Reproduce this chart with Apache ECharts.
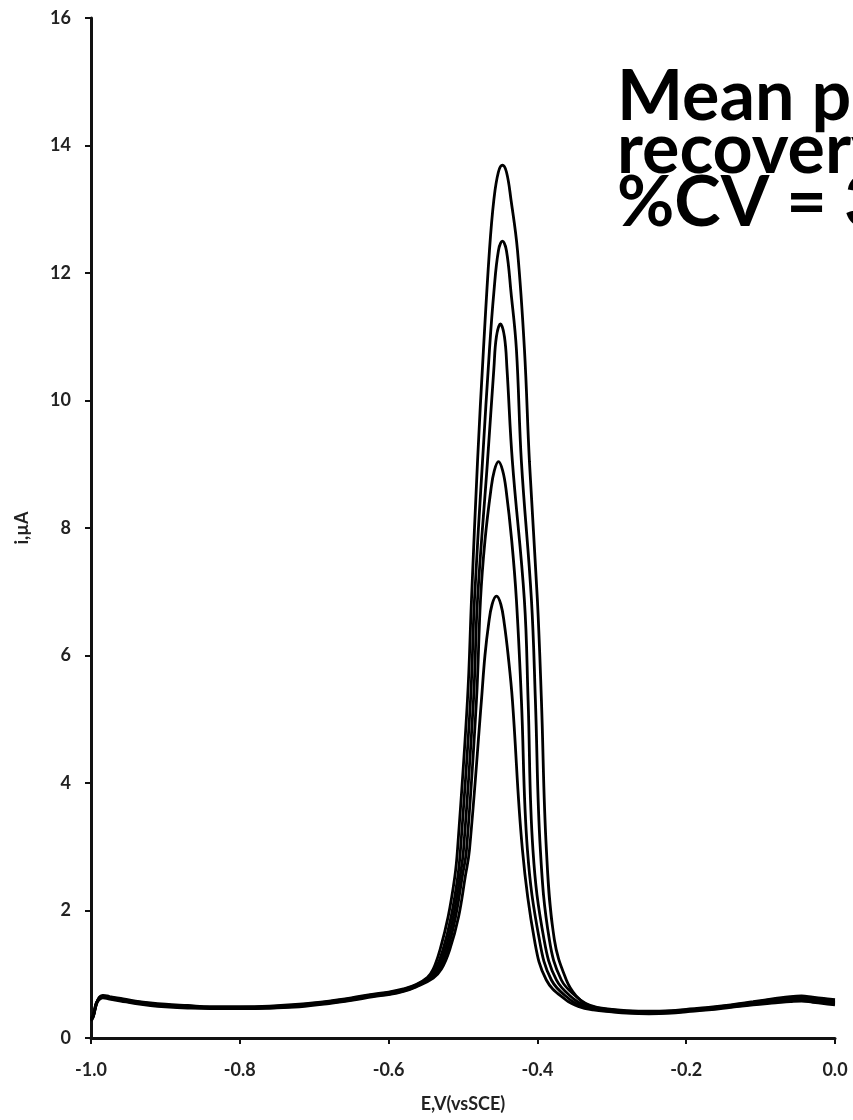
<!DOCTYPE html>
<html>
<head>
<meta charset="utf-8">
<script src="https://cdn.jsdelivr.net/npm/echarts@6/dist/echarts.min.js"></script>
<style>
html,body{margin:0;padding:0;background:#fff;}
#chart{width:853px;height:1120px;}
</style>
</head>
<body>
<div id="chart"></div>
<script>
// ---- data (E in V vs SCE, i in µA) ----
const xTicks = [-1.0, -0.8, -0.6, -0.4, -0.2, 0.0];
const yTicks = [0, 2, 4, 6, 8, 10, 12, 14, 16];
const xAxisTitle = 'E,V(vsSCE)';
const yAxisTitle = 'i,µA';
const noteLines = ['Mean p', 'recovery', '%CV = 3'];

const curveA = [
  [-1.0,0.27],[-0.997,0.33],[-0.993,0.52],[-0.989,0.64],[-0.984,0.67],[-0.975,0.65],[-0.96,0.62],[-0.94,0.58],
  [-0.92,0.55],[-0.9,0.53],[-0.87,0.51],[-0.84,0.49],[-0.8,0.49],[-0.76,0.5],[-0.72,0.53],[-0.68,0.58],
  [-0.65,0.63],[-0.62,0.69],[-0.6,0.72],[-0.58,0.77],[-0.563,0.84],[-0.548,0.95],[-0.54,1.08],[-0.531,1.38],
  [-0.52,1.9],[-0.511,2.53],[-0.5074,2.95],[-0.494,5.3],[-0.4886,6.87],[-0.4805,9.04],[-0.4725,10.8],
  [-0.4644,12.36],[-0.4585,13.15],[-0.4525,13.58],[-0.447,13.69],[-0.4415,13.58],[-0.4355,13.15],[-0.4268,12.36],
  [-0.4174,10.8],[-0.4107,9.04],[-0.4,6.87],[-0.3946,5.3],[-0.3879,2.95],[-0.3772,1.54],[-0.3611,0.91],
  [-0.348,0.66],[-0.335,0.54],[-0.32,0.48],[-0.3,0.45],[-0.28,0.43],[-0.25,0.42],[-0.22,0.43],[-0.2,0.45],
  [-0.17,0.48],[-0.14,0.52],[-0.11,0.57],[-0.08,0.62],[-0.06,0.65],[-0.045,0.66],[-0.03,0.64],[-0.015,0.62],[0.0,0.6]
];
const curveB = [
  [-1.0,0.28],[-0.997,0.34],[-0.993,0.53],[-0.989,0.63],[-0.984,0.66],[-0.975,0.64],[-0.96,0.61],[-0.94,0.57],
  [-0.92,0.54],[-0.9,0.52],[-0.87,0.5],[-0.84,0.48],[-0.8,0.48],[-0.76,0.49],[-0.72,0.52],[-0.68,0.57],
  [-0.65,0.62],[-0.62,0.68],[-0.6,0.71],[-0.58,0.76],[-0.563,0.83],[-0.546,0.95],[-0.537,1.08],[-0.527,1.38],
  [-0.516,1.9],[-0.507,2.53],[-0.5034,2.95],[-0.4899,5.3],[-0.4846,6.87],[-0.4738,9.04],[-0.4644,10.8],
  [-0.4585,11.7],[-0.4524,12.35],[-0.447,12.5],[-0.4416,12.35],[-0.4355,11.7],
  [-0.4282,10.8],[-0.4215,9.04],[-0.408,6.87],[-0.4027,5.3],[-0.396,2.95],[-0.3839,1.54],[-0.3678,0.91],
  [-0.346,0.63],[-0.333,0.52],[-0.318,0.47],[-0.3,0.44],[-0.28,0.42],[-0.25,0.41],[-0.22,0.42],[-0.2,0.44],
  [-0.17,0.47],[-0.14,0.51],[-0.11,0.56],[-0.08,0.61],[-0.06,0.63],[-0.045,0.64],[-0.03,0.62],[-0.015,0.6],[0.0,0.58]
];
const curveC = [
  [-1.0,0.3],[-0.997,0.35],[-0.993,0.54],[-0.989,0.62],[-0.984,0.65],[-0.975,0.63],[-0.96,0.6],[-0.94,0.56],
  [-0.92,0.53],[-0.9,0.51],[-0.87,0.49],[-0.84,0.48],[-0.8,0.47],[-0.76,0.48],[-0.72,0.51],[-0.68,0.56],
  [-0.65,0.61],[-0.62,0.67],[-0.6,0.7],[-0.58,0.75],[-0.563,0.82],[-0.544,0.95],[-0.535,1.08],[-0.524,1.38],
  [-0.513,1.9],[-0.504,2.53],[-0.4993,2.95],[-0.4859,5.3],[-0.4805,6.87],[-0.4671,9.04],[-0.4585,10.5],
  [-0.4551,11.0],[-0.4497,11.2],[-0.4443,11.0],[-0.4409,10.5],[-0.4336,9.04],[-0.4175,6.87],[-0.4125,5.3],
  [-0.406,2.95],[-0.391,1.54],[-0.3745,0.91],[-0.351,0.61],[-0.336,0.51],[-0.32,0.46],[-0.3,0.43],[-0.28,0.41],
  [-0.25,0.4],[-0.22,0.41],[-0.2,0.43],[-0.17,0.46],[-0.14,0.5],[-0.11,0.54],[-0.08,0.59],[-0.06,0.61],
  [-0.045,0.62],[-0.03,0.6],[-0.015,0.58],[0.0,0.56]
];
const curveD = [
  [-1.0,0.29],[-0.997,0.34],[-0.993,0.52],[-0.989,0.61],[-0.984,0.64],[-0.975,0.62],[-0.96,0.59],[-0.94,0.55],
  [-0.92,0.52],[-0.9,0.5],[-0.87,0.48],[-0.84,0.47],[-0.8,0.46],[-0.76,0.47],[-0.72,0.5],[-0.68,0.55],
  [-0.65,0.6],[-0.62,0.66],[-0.6,0.69],[-0.58,0.74],[-0.563,0.81],[-0.542,0.95],[-0.532,1.08],[-0.521,1.38],
  [-0.51,1.9],[-0.501,2.53],[-0.4953,2.95],[-0.4819,5.3],[-0.4765,6.87],[-0.4705,7.8],[-0.4625,8.6],
  [-0.4579,8.9],[-0.4523,9.04],[-0.4467,8.9],[-0.4421,8.6],[-0.4345,7.8],[-0.4282,6.87],[-0.4215,5.3],
  [-0.4134,2.95],[-0.3973,1.54],
  [-0.3812,0.91],[-0.356,0.6],[-0.34,0.5],[-0.322,0.45],[-0.3,0.42],[-0.28,0.4],[-0.25,0.39],[-0.22,0.4],
  [-0.2,0.42],[-0.17,0.45],[-0.14,0.49],[-0.11,0.53],[-0.08,0.57],[-0.06,0.59],[-0.045,0.6],[-0.03,0.58],
  [-0.015,0.56],[0.0,0.54]
];
const curveE = [
  [-1.0,0.31],[-0.997,0.36],[-0.993,0.55],[-0.989,0.6],[-0.984,0.63],[-0.975,0.61],[-0.96,0.58],[-0.94,0.54],
  [-0.92,0.51],[-0.9,0.49],[-0.87,0.47],[-0.84,0.46],[-0.8,0.46],[-0.76,0.47],[-0.72,0.49],[-0.68,0.54],
  [-0.65,0.59],[-0.62,0.65],[-0.6,0.68],[-0.58,0.73],[-0.563,0.8],[-0.54,0.94],[-0.529,1.08],[-0.518,1.38],
  [-0.506,1.9],[-0.497,2.53],[-0.4913,2.95],[-0.4752,5.3],[-0.4705,6.0],[-0.4655,6.5],[-0.4609,6.8],[-0.455,6.93],
  [-0.4491,6.8],[-0.4445,6.5],[-0.4393,6.0],[-0.4336,5.3],[-0.4201,2.95],[-0.404,1.54],[-0.388,0.91],[-0.362,0.6],
  [-0.344,0.49],[-0.325,0.44],[-0.3,0.41],[-0.28,0.39],[-0.25,0.38],[-0.22,0.39],[-0.2,0.41],[-0.17,0.44],
  [-0.14,0.48],[-0.11,0.52],[-0.08,0.55],[-0.06,0.57],[-0.045,0.58],[-0.03,0.56],[-0.015,0.54],[0.0,0.52]
];
const curves = [curveA, curveB, curveC, curveD, curveE];

const chart = echarts.init(document.getElementById('chart'), null, {renderer: 'canvas'});
const labelFont = {fontFamily: 'Lato', fontWeight: 'bold', fontSize: 18, color: '#222'};
const axisLine = {show: true, onZero: false, lineStyle: {color: '#111', width: 3}};

chart.setOption({
  backgroundColor: '#fff',
  animation: false,
  grid: {left: 91, right: 18, top: 18, bottom: 82, containLabel: false},
  xAxis: {
    type: 'value', min: xTicks[0], max: xTicks[xTicks.length - 1], interval: 0.2,
    axisLine: axisLine,
    axisTick: {show: true, length: 6, inside: false, lineStyle: {color: '#111', width: 2}},
    axisLabel: Object.assign({margin: 23, formatter: v => v.toFixed(1)}, labelFont),
    splitLine: {show: false},
    name: xAxisTitle, nameLocation: 'middle', nameGap: 57,
    nameTextStyle: {fontFamily: 'Lato', fontWeight: 'bold', fontSize: 18, color: '#222'}
  },
  yAxis: {
    type: 'value', min: yTicks[0], max: yTicks[yTicks.length - 1], interval: 2,
    axisLine: axisLine,
    axisTick: {show: true, length: 6, inside: false, lineStyle: {color: '#111', width: 2}},
    axisLabel: Object.assign({margin: 20}, labelFont),
    splitLine: {show: false},
    name: yAxisTitle, nameLocation: 'middle', nameGap: 60, nameRotate: 90,
    nameTextStyle: {fontFamily: 'Lato', fontWeight: 'bold', fontSize: 18, color: '#222'}
  },
  series: curves.map((c, i) => ({
    type: 'line', data: c, showSymbol: false, symbol: 'none', smooth: 0.4,
    lineStyle: {color: '#000', width: 2.8}, z: 3 + i
  })),
  graphic: noteLines.map((t, i) => ({
    type: 'text', left: 617, top: 62 + i * 53, silent: true,
    style: {text: t, fontFamily: 'Lato', fontWeight: 'bold', fontSize: 70, fill: '#000'}
  }))
});
</script>
</body>
</html>
